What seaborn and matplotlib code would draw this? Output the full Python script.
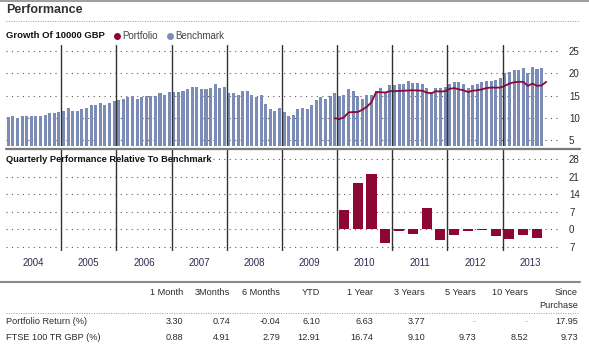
import numpy as np
import matplotlib
matplotlib.use('Agg')
import matplotlib.pyplot as plt
from matplotlib.lines import Line2D
import seaborn as sns

# growth of 10000 GBP (thousands), monthly from Jan 2004 to Sep 2013
bench_2004 = [10.1, 10.3, 10.0, 10.3, 10.3, 10.3, 10.3, 10.3, 10.6, 11.0, 11.0, 11.3]
bench_2005 = [11.5, 12.1, 11.5, 11.5, 12.0, 12.1, 12.8, 12.8, 13.3, 12.9, 13.3, 13.8]
bench_2006 = [14.0, 14.2, 14.6, 14.8, 14.2, 14.6, 14.9, 14.9, 14.9, 15.5, 15.1, 15.75]
bench_2007 = [15.75, 15.75, 16.0, 16.4, 16.9, 16.9, 16.4, 16.4, 16.65, 17.6, 16.65, 16.9]
bench_2008 = [15.6, 15.6, 15.1, 16.0, 16.0, 15.1, 14.6, 15.1, 13.0, 12.0, 11.5, 12.2]
bench_2009 = [11.3, 10.3, 10.6, 12.0, 12.2, 12.0, 12.9, 14.0, 14.6, 14.2, 14.9, 15.6]
bench_2010 = [14.9, 15.1, 16.4, 16.0, 14.9, 14.2, 15.1, 15.1, 16.05, 16.65, 15.75, 17.3]
bench_2011 = [17.3, 17.6, 17.6, 18.2, 17.9, 17.9, 17.5, 16.6, 15.85, 16.75, 16.75, 17.0]
bench_2012 = [17.5, 18.0, 18.0, 17.7, 16.6, 17.4, 17.7, 18.0, 18.3, 18.3, 18.6, 18.9]
bench_2013 = [20.2, 20.4, 20.7, 20.7, 21.3, 20.2, 21.5, 21.0, 21.3]
benchmark = (bench_2004 + bench_2005 + bench_2006 + bench_2007 + bench_2008
             + bench_2009 + bench_2010 + bench_2011 + bench_2012 + bench_2013)

# portfolio line starts at month 71 (Dec 2009)
portfolio_start = 71
portfolio = [9.9, 9.7, 10.1, 11.2, 11.3, 11.3, 11.8, 12.5, 13.5, 15.8,
             15.75, 15.7, 16.0, 16.0, 16.05, 16.1, 16.15, 16.2, 16.15, 16.1,
             15.7, 15.5, 16.0, 15.9, 16.0, 16.5, 16.7, 16.4, 16.2, 15.8,
             16.1, 16.2, 16.4, 16.7, 16.8, 16.8, 16.8, 17.2, 17.7, 18.0,
             18.1, 18.1, 17.2, 17.7, 17.2, 17.3, 18.1]

# quarterly performance relative to benchmark, Q1 2010 .. Q3 2013
quarter_start = 73
relative = [7.5, 18.4, 22.0, -5.6, -0.9, -2.0, 8.4, -4.4,
            -2.4, -0.9, -0.5, -2.9, -4.0, -2.4, -3.7]

years = ['2004', '2005', '2006', '2007', '2008', '2009', '2010', '2011', '2012', '2013']
growth_ticks = [5, 10, 15, 20, 25]
rel_ticks = [-7, 0, 7, 14, 21, 28]
rel_tick_labels = ['7', '0', '7', '14', '21', '28']

periods = ['1 Month', '3Months', '6 Months', 'YTD', '1 Year', '3 Years',
           '5 Years', '10 Years', 'Since\nPurchase']
portfolio_ret = ['3.30', '0.74', '-0.04', '6.10', '6.63', '3.77', '-', '-', '17.95']
ftse_ret = ['0.88', '4.91', '2.79', '12.91', '16.74', '9.10', '9.73', '8.52', '9.73']

BLUE = '#7b8db6'
MAROON = '#8e0636'
GRID = '#5a5a5a'
TXT = '#2b2b2b'

sns.set_style('white')
plt.rcParams['font.family'] = ['Liberation Sans', 'DejaVu Sans']

W, H = 589, 351
fig = plt.figure(figsize=(W / 100, H / 100), dpi=100)


def fx(px):
    return px / W


def fy(py):
    return 1 - py / H


ax1 = fig.add_axes([fx(6), fy(146), fx(554), 101 / H])
ax2 = fig.add_axes([fx(6), fy(251), fx(554), 101 / H])

months = np.arange(len(benchmark))
sns.barplot(x=months, y=benchmark, native_scale=True, width=0.66, color=BLUE,
            saturation=1, errorbar=None, linewidth=0, ax=ax1)
sns.lineplot(x=np.arange(portfolio_start, portfolio_start + len(portfolio)), y=portfolio,
             color=MAROON, lw=1.3, ax=ax1, zorder=4)

qx = quarter_start + 3 * np.arange(len(relative))
sns.barplot(x=qx, y=relative, native_scale=True, width=0.73, color=MAROON,
            saturation=1, errorbar=None, linewidth=0, ax=ax2)

dots = (0, (1, 3.9))
for ax in (ax1, ax2):
    ax.set_xlim(-0.5, 120)
    for k in range(1, len(years)):
        ax.axvline(12 * k - 0.5, color='#333333', lw=1.0, zorder=5)
    for s in ax.spines.values():
        s.set_visible(False)
    ax.yaxis.tick_right()
    ax.tick_params(axis='y', length=0, pad=6.5, labelsize=7, labelcolor=TXT)
    ax.set_xlabel('')
    ax.set_ylabel('')

ax1.set_ylim(3.64, 26.4)
ax1.set_yticks(growth_ticks)
ax1.yaxis.grid(True, ls=dots, color=GRID, lw=0.8)
ax1.xaxis.grid(False)
ax1.set_xticks([])

ax2.set_ylim(-8.7, 31.6)
ax2.set_yticks(rel_ticks)
ax2.set_yticklabels(rel_tick_labels)
ax2.set_axisbelow(True)
ax2.yaxis.grid(True, ls=dots, color=GRID, lw=0.8)
ax2.xaxis.grid(False)
ax2.set_xticks([5.5 + 12 * k for k in range(len(years))])
ax2.set_xticklabels(years)
ax2.tick_params(axis='x', length=0, pad=5, labelsize=7, labelcolor='#2b2d52')

ax2.text(0, 0.91, 'Quarterly Performance Relative To Benchmark', transform=ax2.transAxes,
         fontsize=6.7, fontweight='bold', color='#111111', va='center', ha='left',
         bbox=dict(facecolor='white', edgecolor='none', pad=0.6), zorder=4)

# header
fig.add_artist(Line2D([0, 1], [fy(1), fy(1)], color='#a0a0a0', lw=1.5))
fig.text(fx(6), fy(10), 'Performance', fontsize=9, fontweight='bold', color='#333333',
         va='center', ha='left')
fig.add_artist(Line2D([fx(6), fx(579)], [fy(21), fy(21)], color='#999999', lw=0.7,
                      ls=(0, (1, 1.5))))
fig.text(fx(6), fy(36), 'Growth Of 10000 GBP', fontsize=6.8, fontweight='bold',
         color='#111111', va='center', ha='left')
handles = [Line2D([], [], marker='o', ls='', color=MAROON, markersize=4),
           Line2D([], [], marker='o', ls='', color=BLUE, markersize=4)]
fig.legend(handles, ['Portfolio', 'Benchmark'], loc='center left',
           bbox_to_anchor=(fx(108), fy(36)), ncol=2, frameon=False, fontsize=7,
           handlelength=0.8, handletextpad=0.2, columnspacing=0.8, borderpad=0,
           labelcolor='#444444')

# thick separator under growth chart
fig.add_artist(Line2D([fx(6), fx(580)], [fy(149), fy(149)], color='#7a7a7a', lw=1.6))

# returns table
fig.add_artist(Line2D([0, fx(580)], [fy(282), fy(282)], color='#8a8a8a', lw=1.5))
fig.add_artist(Line2D([fx(6), fx(578)], [fy(313), fy(313)], color='#999999', lw=0.7,
                      ls=(0, (1, 1.5))))
col_right = [183, 230, 280, 320, 373, 425, 476, 528, 578]
for xr, lab, p, f in zip(col_right, periods, portfolio_ret, ftse_ret):
    fig.text(fx(xr), fy(288), lab, fontsize=6.6, color=TXT, ha='right', va='top',
             linespacing=1.5)
    fig.text(fx(xr), fy(322), p, fontsize=6.6, ha='right', va='center',
             color='#aaaaaa' if p == '-' else TXT)
    fig.text(fx(xr), fy(337), f, fontsize=6.6, ha='right', va='center', color=TXT)
fig.text(fx(6), fy(322), 'Portfolio Return (%)', fontsize=6.6, color=TXT, va='center')
fig.text(fx(6), fy(337), 'FTSE 100 TR GBP (%)', fontsize=6.6, color=TXT, va='center')

fig.savefig('out.png', dpi=100)
